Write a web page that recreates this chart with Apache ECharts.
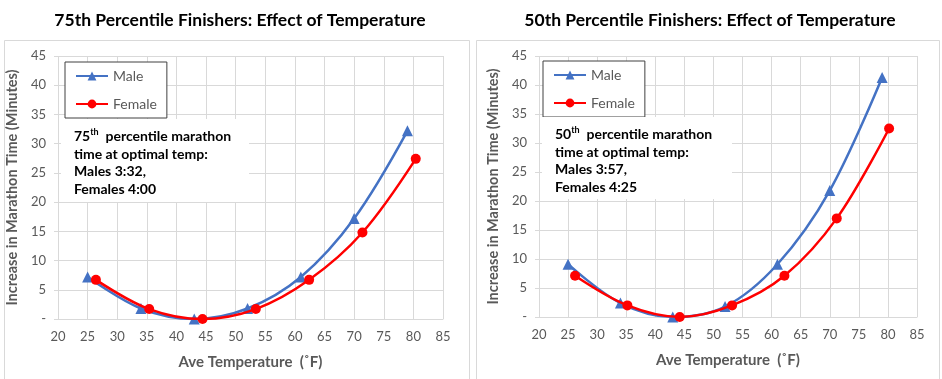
<!DOCTYPE html>
<html><head><meta charset="utf-8">
<script src="https://cdn.jsdelivr.net/npm/echarts@6/dist/echarts.min.js"></script>
<style>html,body{margin:0;padding:0;background:#fff}#c{width:942px;height:379px}</style>
</head><body><div id="c"></div>
<script>
// ---- data ----
const titles = ['75th Percentile Finishers: Effect of Temperature', '50th Percentile Finishers: Effect of Temperature'];
const seriesNames = ['Male', 'Female'];
const maleTemp75 = [25, 34, 43, 52, 61, 70, 79];
const male75 = [7.2, 1.8, 0, 1.8, 7.2, 17.2, 32.2];
const femaleTemp75 = [26.4, 35.4, 44.4, 53.4, 62.4, 71.4, 80.4];
const female75 = [6.7, 1.7, 0, 1.7, 6.7, 14.8, 27.4];
const maleTemp50 = [25, 34, 43, 52, 61, 70, 79];
const male50 = [9.1, 2.4, 0, 1.8, 9.1, 21.8, 41.3];
const femaleTemp50 = [26.2, 35.2, 44.2, 53.2, 62.2, 71.2, 80.2];
const female50 = [7.1, 2.0, 0, 2.0, 7.1, 17.0, 32.5];
const notes75 = ['75', 'th', 'time at optimal temp:', 'Males 3:32,', 'Females 4:00'];
const notes50 = ['50', 'th', 'time at optimal temp:', 'Males 3:57,', 'Females 4:25'];
const xAxisName = 'Ave Temperature  (˚F)';
const yAxisName = 'Increase in Marathon Time (Minutes)';

const FONT = 'Lato, "Open Sans", sans-serif';
const GRAY = '#595959';
const GRID = '#D9D9D9';
const BLUE = '#4472C4';
const RED = '#FF0000';

function zip(xs, ys) { return xs.map((x, i) => [x, ys[i]]); }

const chart = echarts.init(document.getElementById('c'), null, {renderer: 'canvas'});

function xAxis(gi) {
  return {
    type: 'value', gridIndex: gi, min: 20, max: 85, interval: 5,
    name: xAxisName, nameLocation: 'middle', nameGap: 36,
    nameTextStyle: {color: GRAY, fontSize: 15, fontWeight: 'bold', fontFamily: FONT},
    axisLine: {show: true, lineStyle: {color: GRID, width: 1}},
    axisTick: {show: false},
    axisLabel: {color: GRAY, fontSize: 13, fontFamily: FONT, margin: 11},
    splitLine: {show: true, lineStyle: {color: GRID, width: 1}}
  };
}
function yAxis(gi) {
  return {
    type: 'value', gridIndex: gi, min: 0, max: 45, interval: 5,
    name: yAxisName, nameLocation: 'middle', nameGap: 38,
    nameTextStyle: {color: GRAY, fontSize: 14.5, fontWeight: 'bold', fontFamily: FONT},
    axisLine: {show: false},
    axisTick: {show: true, length: 4, inside: false, lineStyle: {color: GRID}},
    axisLabel: {color: GRAY, fontSize: 13, fontFamily: FONT, margin: 12,
      formatter: v => v === 0 ? '-' : String(v)},
    splitLine: {show: true, lineStyle: {color: GRID, width: 1}}
  };
}
function lineSeries(name, gi, data, color, symbol, size) {
  return {
    name: name, type: 'line', xAxisIndex: gi, yAxisIndex: gi,
    data: data, smooth: 0.35, symbol: symbol, symbolSize: size,
    lineStyle: {color: color, width: 2.5},
    itemStyle: {color: color},
    emphasis: {disabled: true},
    z: name === 'Female' ? 4 : 3
  };
}
function legend(left, top) {
  return {
    data: seriesNames, orient: 'vertical', left: left, top: top,
    itemWidth: 32, itemHeight: 11, itemGap: 14,
    padding: [7, 10, 7, 10],
    borderColor: '#404040', borderWidth: 1, backgroundColor: '#fff',
    textStyle: {color: GRAY, fontSize: 14, fontFamily: FONT},
    selectedMode: false
  };
}
function note(x, y, w, h, n) {
  return [{
    type: 'rect', left: x, top: y, z: 20,
    shape: {width: w, height: h}, style: {fill: '#fff'}
  }, {
    type: 'text', left: x + 13, top: y + 9, z: 21,
    style: {
      text: '{b|' + n[0] + '}{s|' + n[1] + '}{b|  percentile marathon}\n{b|' + n[2] + '}\n{b|' + n[3] + '}\n{b|' + n[4] + '}',
      rich: {
        b: {fontSize: 14, fontWeight: 'bold', fontFamily: FONT, fill: '#000', lineHeight: 17.5},
        s: {fontSize: 9, fontWeight: 'bold', fontFamily: FONT, fill: '#000', verticalAlign: 'top', lineHeight: 17.5, padding: [0, 0, 6, 0]}
      }
    }
  }];
}

const option = {
  backgroundColor: '#fff',
  animation: false,
  title: [
    {text: titles[0], left: 235, top: 6, textAlign: 'center',
     textStyle: {fontSize: 17.5, fontWeight: 'bold', color: '#000', fontFamily: FONT}},
    {text: titles[1], left: 705, top: 6, textAlign: 'center',
     textStyle: {fontSize: 17.5, fontWeight: 'bold', color: '#000', fontFamily: FONT}}
  ],
  grid: [
    {left: 58, top: 56, width: 385, height: 263},
    {left: 539, top: 56, width: 378, height: 261}
  ],
  xAxis: [xAxis(0), xAxis(1)],
  yAxis: [yAxis(0), yAxis(1)],
  legend: [legend(65, 62), legend(543, 61)],
  series: [
    lineSeries('Male', 0, zip(maleTemp75, male75), BLUE, 'triangle', 11),
    lineSeries('Female', 0, zip(femaleTemp75, female75), RED, 'circle', 10),
    lineSeries('Male', 1, zip(maleTemp50, male50), BLUE, 'triangle', 11),
    lineSeries('Female', 1, zip(femaleTemp50, female50), RED, 'circle', 10)
  ],
  graphic: [
    {type: 'rect', left: 2, top: 38, z: -10, silent: true,
     shape: {width: 465, height: 339}, style: {fill: 'none', stroke: GRID, lineWidth: 1}},
    {type: 'rect', left: 474, top: 38, z: -10, silent: true,
     shape: {width: 463, height: 339}, style: {fill: 'none', stroke: GRID, lineWidth: 1}}
  ].concat(note(61, 119, 188, 83, notes75), note(542, 117, 190, 82, notes50))
};
chart.setOption(option);
</script></body></html>
